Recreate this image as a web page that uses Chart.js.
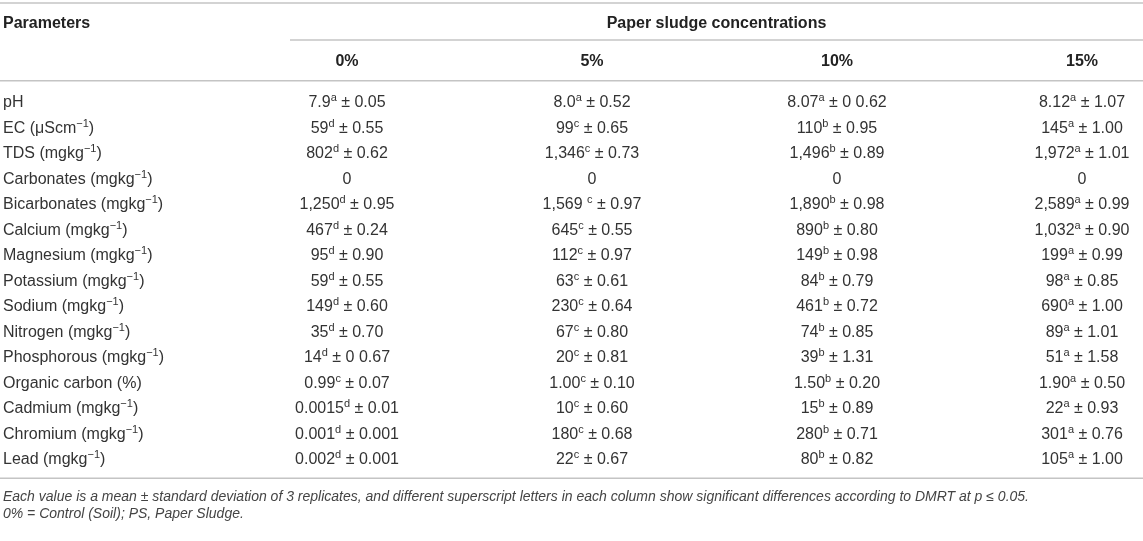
<!DOCTYPE html>
<html>
<head>
<meta charset="utf-8">
<script src="https://cdn.jsdelivr.net/npm/chart.js@4.4.1/dist/chart.umd.min.js"></script>
<style>
  html, body { margin: 0; padding: 0; background: #ffffff; }
  #wrap { position: relative; width: 1143px; height: 541px; }
</style>
</head>
<body>
<div id="wrap"><canvas id="c"></canvas></div>
<script>
// ---- Table content ----
const headerParam = 'Parameters';
const headerGroup = 'Paper sludge concentrations';
const concentrations = ['0%', '5%', '10%', '15%'];

const params = ['pH', 'EC', 'TDS', 'Carbonates', 'Bicarbonates', 'Calcium', 'Magnesium',
  'Potassium', 'Sodium', 'Nitrogen', 'Phosphorous', 'Organic carbon', 'Cadmium', 'Chromium', 'Lead'];
const paramUnits = ['', 'μScm', 'mgkg', 'mgkg', 'mgkg', 'mgkg', 'mgkg',
  'mgkg', 'mgkg', 'mgkg', 'mgkg', '%', 'mgkg', 'mgkg', 'mgkg'];
const unitExponents = ['', '−1', '−1', '−1', '−1', '−1', '−1',
  '−1', '−1', '−1', '−1', '', '−1', '−1', '−1'];

const mean0 = ['7.9', '59', '802', '0', '1,250', '467', '95', '59', '149', '35', '14', '0.99', '0.0015', '0.001', '0.002'];
const letter0 = ['a', 'd', 'd', '', 'd', 'd', 'd', 'd', 'd', 'd', 'd', 'c', 'd', 'd', 'd'];
const sd0 = ['0.05', '0.55', '0.62', '', '0.95', '0.24', '0.90', '0.55', '0.60', '0.70', '0 0.67', '0.07', '0.01', '0.001', '0.001'];

const mean5 = ['8.0', '99', '1,346', '0', '1,569 ', '645', '112', '63', '230', '67', '20', '1.00', '10', '180', '22'];
const letter5 = ['a', 'c', 'c', '', 'c', 'c', 'c', 'c', 'c', 'c', 'c', 'c', 'c', 'c', 'c'];
const sd5 = ['0.52', '0.65', '0.73', '', '0.97', '0.55', '0.97', '0.61', '0.64', '0.80', '0.81', '0.10', '0.60', '0.68', '0.67'];

const mean10 = ['8.07', '110', '1,496', '0', '1,890', '890', '149', '84', '461', '74', '39', '1.50', '15', '280', '80'];
const letter10 = ['a', 'b', 'b', '', 'b', 'b', 'b', 'b', 'b', 'b', 'b', 'b', 'b', 'b', 'b'];
const sd10 = ['0 0.62', '0.95', '0.89', '', '0.98', '0.80', '0.98', '0.79', '0.72', '0.85', '1.31', '0.20', '0.89', '0.71', '0.82'];

const mean15 = ['8.12', '145', '1,972', '0', '2,589', '1,032', '199', '98', '690', '89', '51', '1.90', '22', '301', '105'];
const letter15 = ['a', 'a', 'a', '', 'a', 'a', 'a', 'a', 'a', 'a', 'a', 'a', 'a', 'a', 'a'];
const sd15 = ['1.07', '1.00', '1.01', '', '0.99', '0.90', '0.99', '0.85', '1.00', '1.01', '1.58', '0.50', '0.93', '0.76', '1.00'];

const footnote1 = 'Each value is a mean ± standard deviation of 3 replicates, and different superscript letters in each column show significant differences according to DMRT at p ≤ 0.05.';
const footnote2 = '0% = Control (Soil); PS, Paper Sludge.';

const columns = [
  { mean: mean0, letter: letter0, sd: sd0 },
  { mean: mean5, letter: letter5, sd: sd5 },
  { mean: mean10, letter: letter10, sd: sd10 },
  { mean: mean15, letter: letter15, sd: sd15 }
];

// ---- Styling ----
const FONT = '"Liberation Sans", Arial, Helvetica, sans-serif';
const SIZE = 16;
const SUP = 11;
const TEXT = '#333333';
const RULE = '#c4c4c4';

function parts(list) { return list.filter(p => p.t !== ''); }

function drawRich(ctx, segs, x, baseY, align, weight, style) {
  const w = weight || 'normal';
  const st = style || 'normal';
  let total = 0;
  segs.forEach(s => {
    ctx.font = `${st} ${w} ${s.sup ? SUP : SIZE}px ${FONT}`;
    s.w = ctx.measureText(s.t).width;
    total += s.w;
  });
  let cx = align === 'center' ? x - total / 2 : (align === 'right' ? x - total : x);
  ctx.textAlign = 'left';
  ctx.textBaseline = 'alphabetic';
  segs.forEach(s => {
    ctx.font = `${st} ${w} ${s.sup ? SUP : SIZE}px ${FONT}`;
    ctx.fillText(s.t, cx, s.sup ? baseY - 6 : baseY);
    cx += s.w;
  });
}

function labelSegs(i) {
  const segs = [{ t: params[i] }];
  if (paramUnits[i]) {
    segs[0].t += ' (' + paramUnits[i];
    if (unitExponents[i]) segs.push({ t: unitExponents[i], sup: true });
    segs.push({ t: ')' });
  }
  return parts(segs);
}

function cellSegs(c, i) {
  const col = columns[c];
  const segs = [{ t: col.mean[i] }];
  if (col.letter[i]) segs.push({ t: col.letter[i], sup: true });
  if (col.sd[i]) segs.push({ t: ' ± ' + col.sd[i] });
  return parts(segs);
}

const tablePlugin = {
  id: 'tableText',
  afterDatasetsDraw(chart) {
    const ctx = chart.ctx;
    const xs = chart.scales.x;
    const ys = chart.scales.y;
    const W = chart.width;
    ctx.save();

    // rules
    ctx.strokeStyle = RULE;
    ctx.lineWidth = 1.6;
    const hline = (x0, x1, y) => { ctx.beginPath(); ctx.moveTo(x0, y); ctx.lineTo(x1, y); ctx.stroke(); };
    const rowTop = ys.getPixelForValue(0) - (ys.getPixelForValue(1) - ys.getPixelForValue(0)) / 2;
    const rowBottom = ys.getPixelForValue(params.length - 1) + (ys.getPixelForValue(1) - ys.getPixelForValue(0)) / 2;
    hline(0, W, 3);
    hline(290, W, 40);
    hline(0, W, rowTop - 7.5);
    hline(0, W, rowBottom + 7.5);

    ctx.fillStyle = '#222222';
    // headers
    drawRich(ctx, [{ t: headerParam }], 3, 28, 'left', 'bold');
    const groupCenter = (290 + W) / 2;
    drawRich(ctx, [{ t: headerGroup }], groupCenter, 28, 'center', 'bold');
    concentrations.forEach((c, k) => {
      drawRich(ctx, [{ t: c }], xs.getPixelForValue(k), 66, 'center', 'bold');
    });

    ctx.fillStyle = TEXT;
    // row labels
    params.forEach((p, i) => {
      drawRich(ctx, labelSegs(i), 3, ys.getPixelForValue(i) + 6, 'left');
    });

    // cells from dataset points
    chart.data.datasets.forEach((ds, di) => {
      const meta = chart.getDatasetMeta(di);
      meta.data.forEach((pt, i) => {
        drawRich(ctx, cellSegs(di, i), pt.x, pt.y + 6, 'center');
      });
    });

    // footnotes
    ctx.fillStyle = '#444444';
    ctx.font = `italic normal 14px ${FONT}`;
    ctx.textAlign = 'left';
    ctx.textBaseline = 'alphabetic';
    ctx.fillText(footnote1, 3, rowBottom + 30);
    ctx.fillText(footnote2, 3, rowBottom + 47);
    ctx.restore();
  }
};

const datasets = concentrations.map((c, k) => ({
  label: c,
  data: params.map((p, i) => ({ x: c, y: p })),
  pointRadius: 0,
  pointHoverRadius: 0,
  showLine: false
}));

new Chart(document.getElementById('c'), {
  type: 'scatter',
  data: { datasets },
  options: {
    responsive: true,
    maintainAspectRatio: false,
    animation: false,
    events: [],
    layout: { padding: { left: 347, right: 61, top: 88.25, bottom: 70.25 } },
    plugins: { legend: { display: false }, tooltip: { enabled: false } },
    scales: {
      x: { type: 'category', labels: concentrations, offset: false, display: false },
      y: { type: 'category', labels: params, offset: true, display: false }
    }
  },
  plugins: [tablePlugin]
});
</script>
</body>
</html>
